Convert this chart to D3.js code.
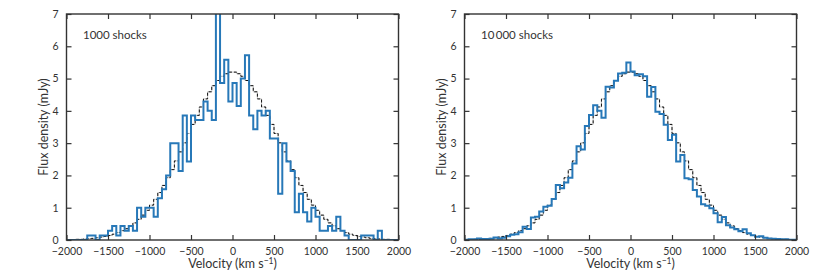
<!DOCTYPE html>
<html>
<head>
<meta charset="utf-8">
<script src="https://cdn.jsdelivr.net/npm/d3@7"></script>
<style>
  body { margin: 0; background: #fff; }
  svg text { font-family: "Lato", "DejaVu Sans", sans-serif; fill: #333; }
</style>
</head>
<body>
<div id="my_dataviz"></div>
<script>

// Velocity bins: 50 km/s wide from -2000 to 2000
var binEdges = d3.range(-2000, 2001, 50);
var xTicks = [-2000, -1500, -1000, -500, 0, 500, 1000, 1500, 2000];
var yTicks = [0, 1, 2, 3, 4, 5, 6, 7];

// Model profile (dashed), one value per bin
var modelFlux = [0.01, 0.01, 0.02, 0.02, 0.03, 0.04, 0.05, 0.07, 0.09, 0.11,
  0.14, 0.18, 0.23, 0.29, 0.35, 0.44, 0.53, 0.64, 0.77, 0.92,
  1.08, 1.26, 1.47, 1.69, 1.93, 2.18, 2.45, 2.73, 3.01, 3.30,
  3.58, 3.86, 4.12, 4.37, 4.59, 4.78, 4.94, 5.07, 5.15, 5.20,
  5.20, 5.15, 5.07, 4.94, 4.78, 4.59, 4.37, 4.12, 3.86, 3.58,
  3.30, 3.01, 2.73, 2.45, 2.18, 1.93, 1.69, 1.47, 1.26, 1.08,
  0.92, 0.77, 0.64, 0.53, 0.44, 0.35, 0.29, 0.23, 0.18, 0.14,
  0.11, 0.09, 0.07, 0.05, 0.04, 0.03, 0.02, 0.02, 0.01, 0.01];

// 1000 shocks histogram
var flux1000 = [0, 0, 0, 0, 0, 0.14, 0.14, 0, 0.14, 0.14,
  0.29, 0.43, 0.14, 0.43, 0.29, 0.43, 0.29, 1.0, 0.72, 1.0,
  1.0, 0.72, 1.29, 1.57, 2.0, 3.0, 3.0, 2.14, 3.86, 2.43,
  3.86, 3.72, 3.72, 4.29, 4.0, 3.72, 7.72, 4.86, 5.58, 4.29,
  4.86, 4.15, 5.0, 5.72, 3.86, 3.43, 4.0, 3.86, 4.0, 3.14,
  3.14, 1.43, 3.0, 2.43, 2.14, 0.86, 1.43, 0.86, 0.57, 1.0,
  0.72, 0.29, 0.29, 0.43, 0.29, 0.72, 0.29, 0.14, 0, 0,
  0, 0.14, 0.14, 0.14, 0, 0.29, 0, 0, 0, 0];

// 10 000 shocks histogram
var flux10000 = [0.01, 0.02, 0.02, 0.05, 0.03, 0.03, 0.04, 0.08, 0.05, 0.07,
  0.12, 0.16, 0.18, 0.24, 0.41, 0.34, 0.70, 0.72, 0.88, 1.03,
  1.06, 1.27, 1.70, 1.60, 1.78, 1.93, 2.37, 2.90, 2.80, 3.53,
  3.87, 4.17, 4.00, 3.79, 4.75, 4.72, 4.93, 5.16, 5.18, 5.50,
  5.22, 5.10, 5.13, 5.07, 4.44, 4.74, 3.97, 3.90, 3.57, 3.10,
  3.26, 2.43, 2.63, 1.91, 1.88, 1.55, 1.35, 1.11, 1.06, 0.98,
  0.83, 0.55, 0.71, 0.46, 0.39, 0.33, 0.27, 0.33, 0.21, 0.15,
  0.10, 0.12, 0.07, 0.05, 0.04, 0.03, 0.02, 0.02, 0.01, 0.01];

var panels = [
  { flux: flux1000, label: "1000 shocks", left: 66.5, id: "a" },
  { flux: flux10000, label: "10\u2009000 shocks", left: 464.5, id: "b" }
];

var plotWidth = 332, plotHeight = 226, plotTop = 14;

var svg = d3.select("#my_dataviz")
  .append("svg")
  .attr("width", 830)
  .attr("height", 277);

// turn bin values into step points (last edge repeats last value)
function stepPoints(vals) {
  var pts = vals.map(function (v, i) { return [binEdges[i], v]; });
  pts.push([binEdges[binEdges.length - 1], vals[vals.length - 1]]);
  return pts;
}

panels.forEach(function (p) {
  var g = svg.append("g")
    .attr("transform", "translate(" + p.left + "," + plotTop + ")");

  var x = d3.scaleLinear().domain([-2000, 2000]).range([0, plotWidth]);
  var y = d3.scaleLinear().domain([0, 7]).range([plotHeight, 0]);

  g.append("clipPath").attr("id", "clip" + p.id)
    .append("rect").attr("width", plotWidth).attr("height", plotHeight);

  var line = d3.line()
    .curve(d3.curveStepAfter)
    .x(function (d) { return x(d[0]); })
    .y(function (d) { return y(d[1]); });

  var plot = g.append("g").attr("clip-path", "url(#clip" + p.id + ")");

  // Model (dashed)
  plot.append("path")
    .datum(stepPoints(modelFlux))
    .attr("fill", "none")
    .attr("stroke", "#c4c4c4")
    .attr("stroke-width", 1)
    .attr("d", line);
  plot.append("path")
    .datum(stepPoints(modelFlux))
    .attr("fill", "none")
    .attr("stroke", "#111")
    .attr("stroke-width", 1)
    .attr("stroke-dasharray", "3,2")
    .attr("d", line);

  // Histogram
  plot.append("path")
    .datum(stepPoints(p.flux))
    .attr("fill", "none")
    .attr("stroke", "#2778b8")
    .attr("stroke-width", 2)
    .attr("d", line);

  // Axes, ticks inward on all four sides
  var fmt = function (d) { return d < 0 ? "\u2212" + Math.abs(d) : d; };
  g.append("g")
    .attr("transform", "translate(0," + plotHeight + ")")
    .call(d3.axisBottom(x).tickValues(xTicks).tickSizeInner(-5).tickSizeOuter(0).tickPadding(8).tickFormat(fmt));
  g.append("g")
    .call(d3.axisTop(x).tickValues(xTicks).tickSizeInner(-5).tickSizeOuter(0).tickFormat(""));
  g.append("g")
    .call(d3.axisLeft(y).tickValues(yTicks).tickSizeInner(-5).tickSizeOuter(0).tickPadding(8).tickFormat(d3.format("d")));
  g.append("g")
    .attr("transform", "translate(" + plotWidth + ",0)")
    .call(d3.axisRight(y).tickValues(yTicks).tickSizeInner(-5).tickSizeOuter(0).tickFormat(""));

  g.selectAll(".domain").remove();
  g.selectAll(".tick line").attr("stroke", "#333").attr("stroke-width", 1.2);
  g.selectAll(".tick text").style("font-size", "10.5px").attr("fill", "#444");

  // Frame
  g.append("rect")
    .attr("width", plotWidth)
    .attr("height", plotHeight)
    .attr("fill", "none")
    .attr("stroke", "#333")
    .attr("stroke-width", 1.4);

  // Panel label
  g.append("text")
    .attr("x", 16.5)
    .attr("y", 25)
    .style("font-size", "11.5px")
    .text(p.label);

  // X axis title
  var xt = g.append("text")
    .attr("x", plotWidth / 2)
    .attr("y", plotHeight + 28)
    .attr("text-anchor", "middle")
    .style("font-size", "12.5px");
  xt.append("tspan").text("Velocity (km s");
  xt.append("tspan").attr("dy", -4).style("font-size", "8.5px").text("\u22121");
  xt.append("tspan").attr("dy", 4).text(")");

  // Y axis title
  g.append("text")
    .attr("transform", "rotate(-90)")
    .attr("x", -plotHeight / 2)
    .attr("y", -19)
    .attr("text-anchor", "middle")
    .style("font-size", "12.5px")
    .text("Flux density (mJy)");
});

</script>
</body>
</html>
